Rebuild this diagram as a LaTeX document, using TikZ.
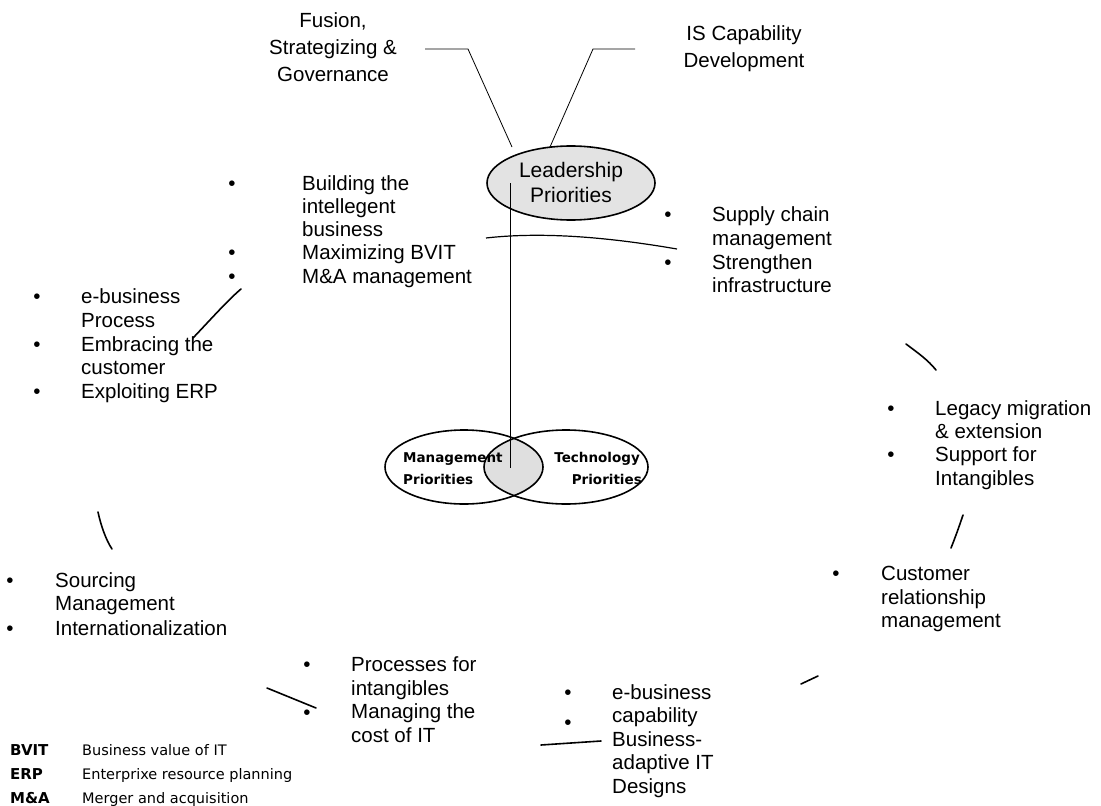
\documentclass[tikz,border=0pt]{standalone}
\usepackage{fontspec}
\setmainfont{Liberation Sans}
\newfontfamily\venn{DejaVu Sans}
\usetikzlibrary{shapes.geometric}
\begin{document}
\begin{tikzpicture}[x=1pt,y=-1pt,
  txt/.style={anchor=base west,inner sep=0pt,font=\fontsize{20.5}{24}\selectfont},
  ctxt/.style={anchor=base,inner sep=0pt,font=\fontsize{20.5}{24}\selectfont},
  bul/.style={anchor=base,inner sep=0pt,font=\fontsize{20.5}{24}\selectfont},
  leg/.style={anchor=base west,inner sep=0pt,font=\venn\fontsize{14.5}{17}\selectfont},
  legb/.style={leg,font=\venn\bfseries\fontsize{15}{17}\selectfont},
  vtxt/.style={inner sep=0pt,font=\venn\bfseries\fontsize{13.5}{16}\selectfont},
  stroke/.style={line width=1.6pt,line cap=round},
  thin/.style={line width=0.8pt}]
\useasboundingbox (0,0) rectangle (1101,806);

% ---------- leadership cluster ----------
\node[ellipse,draw,line width=1.6pt,fill=gray!22,minimum width=168,minimum height=74,inner sep=0pt]
  (lead) at (571,183) {};
\node[ctxt,font=\fontsize{21}{24}\selectfont] (lead1) at (571,177) {Leadership};
\node[ctxt,font=\fontsize{21}{24}\selectfont] (lead2) at (571,202) {Priorities};

\node[ctxt] (fus1) at (333,27) {Fusion,};
\node[ctxt] (fus2) at (333,54) {Strategizing \&};
\node[ctxt] (fus3) at (333,81) {Governance};
\coordinate (fa) at (425,49);
\coordinate (fb) at (468,49);
\coordinate (fc) at (512,147);
\draw[thin] (fa) -- (fb) -- (fc);

\node[ctxt] (isc1) at (744,40) {IS Capability};
\node[ctxt] (isc2) at (744,67) {Development};
\coordinate (ia) at (635,49);
\coordinate (ib) at (593,49);
\coordinate (ic) at (550,147);
\draw[thin] (ia) -- (ib) -- (ic);

% ---------- management / technology venn ----------
\coordinate (mgc) at (464,467);
\coordinate (tcc) at (566,467);
\begin{scope}
  \clip (mgc) ellipse [x radius=79,y radius=37];
  \fill[gray!25] (tcc) ellipse [x radius=82,y radius=37];
\end{scope}
\draw[line width=1.6pt] (mgc) ellipse [x radius=79,y radius=37];
\draw[line width=1.6pt] (tcc) ellipse [x radius=82,y radius=37];
\node[vtxt,anchor=base west] (mg1) at (403,462) {Management};
\node[vtxt,anchor=base west] (mg2) at (403,484) {Priorities};
\node[vtxt,anchor=base east] (tc1) at (640,462) {Technology};
\node[vtxt,anchor=base east] (tc2) at (642,484) {Priorities};
\coordinate (vtop) at (510,183);
\coordinate (vbot) at (510,468);
\draw[thin] (vtop) -- (vbot);
\coordinate (ha) at (486,238);
\coordinate (hb) at (677,249);
\draw[line width=1.2pt] (ha) .. controls (530,233) and (590,234) .. (hb);

% ---------- priority groups ----------
\node[bul] (ab1) at (232,190) {•};
\node[txt] (a1) at (302,190) {Building the};
\node[txt] (a2) at (302,213) {intellegent};
\node[txt] (a3) at (302,236) {business};
\node[bul] (ab2) at (232,259) {•};
\node[txt] (a4) at (302,259) {Maximizing BVIT};
\node[bul] (ab3) at (232,283) {•};
\node[txt] (a5) at (302,283) {M\&A management};

\node[bul] (bb1) at (668,221) {•};
\node[txt] (b1) at (712,221) {Supply chain};
\node[txt] (b2) at (712,245) {management};
\node[bul] (bb2) at (668,269) {•};
\node[txt] (b3) at (712,269) {Strengthen};
\node[txt] (b4) at (712,292) {infrastructure};

\node[bul] (cb1) at (37,303) {•};
\node[txt] (c1) at (81,303) {e-business};
\node[txt] (c2) at (81,327) {Process};
\node[bul] (cb2) at (37,351) {•};
\node[txt] (c3) at (81,351) {Embracing the};
\node[txt] (c4) at (81,374) {customer};
\node[bul] (cb3) at (37,398) {•};
\node[txt] (c5) at (81,398) {Exploiting ERP};

\node[bul] (db1) at (891,415) {•};
\node[txt] (d1) at (935,415) {Legacy migration};
\node[txt] (d2) at (935,438) {\& extension};
\node[bul] (db2) at (891,461) {•};
\node[txt] (d3) at (935,461) {Support for};
\node[txt] (d4) at (935,485) {Intangibles};

\node[bul] (eb1) at (10,587) {•};
\node[txt] (e1) at (55,587) {Sourcing};
\node[txt] (e2) at (55,610) {Management};
\node[bul] (eb2) at (10,635) {•};
\node[txt] (e3) at (55,635) {Internationalization};

\node[bul] (fb1) at (836,580) {•};
\node[txt] (f1) at (881,580) {Customer};
\node[txt] (f2) at (881,604) {relationship};
\node[txt] (f3) at (881,627) {management};

\node[bul] (gb1) at (307,671) {•};
\node[txt] (g1) at (351,671) {Processes for};
\node[txt] (g2) at (351,695) {intangibles};
\node[bul] (gb2) at (307,719) {•};
\node[txt] (g3) at (351,718) {Managing the};
\node[txt] (g4) at (351,742) {cost of IT};

\node[bul] (hb1) at (568,699) {•};
\node[txt] (h1) at (612,699) {e-business};
\node[txt] (h2) at (612,722) {capability};
\node[bul] (hb2) at (568,729) {•};
\node[txt] (h3) at (612,746) {Business-};
\node[txt] (h4) at (612,769) {adaptive IT};
\node[txt] (h5) at (612,793) {Designs};

% ---------- cycle strokes between the groups ----------
\coordinate (s1a) at (193,338); \coordinate (s1b) at (241,289);
\draw[stroke] (s1a) .. controls (212,318) and (228,300) .. (s1b);
\coordinate (s2a) at (98,512); \coordinate (s2b) at (112,549);
\draw[stroke] (s2a) .. controls (101,526) and (106,540) .. (s2b);
\coordinate (s3a) at (267,688); \coordinate (s3b) at (316,708);
\draw[stroke] (s3a) -- (s3b);
\coordinate (s4a) at (541,745); \coordinate (s4b) at (601,741);
\draw[stroke] (s4a) -- (s4b);
\coordinate (s5a) at (801,684); \coordinate (s5b) at (818,676);
\draw[stroke] (s5a) -- (s5b);
\coordinate (s6a) at (963,515); \coordinate (s6b) at (951,548);
\draw[stroke] (s6a) .. controls (959,527) and (955,538) .. (s6b);
\coordinate (s7a) at (906,344); \coordinate (s7b) at (936,370);
\draw[stroke] (s7a) .. controls (918,353) and (928,360) .. (s7b);

% ---------- abbreviations ----------
\node[legb] (k1) at (10,755) {BVIT};
\node[leg] (v1) at (82,755) {Business value of IT};
\node[legb] (k2) at (10,779) {ERP};
\node[leg] (v2) at (82,779) {Enterprixe resource planning};
\node[legb] (k3) at (10,803) {M\&A};
\node[leg] (v3) at (82,803) {Merger and acquisition};
\end{tikzpicture}
\end{document}
